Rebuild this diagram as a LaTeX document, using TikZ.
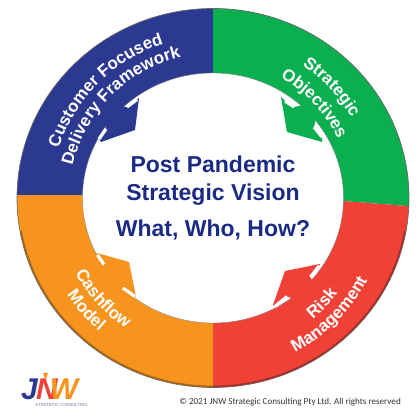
\documentclass[tikz,border=0pt]{standalone}
\usepackage{fontspec}
\setmainfont{Liberation Sans}
\newfontfamily\copyfont{Carlito}
\usetikzlibrary{decorations.text}
\definecolor{ringblue}{HTML}{2B3990}
\definecolor{ringgreen}{HTML}{0BAF50}
\definecolor{ringred}{HTML}{EF4136}
\definecolor{ringorange}{HTML}{F7941E}
\definecolor{visionblue}{HTML}{1B2B85}
\newcommand{\ringfont}{\fontsize{17}{17}\selectfont\bfseries\color{white}}
\tikzset{
  ringlabel/.style={decorate, decoration={text along path, text align=center, text={|\ringfont|#1}}},
  visiontext/.style={font=\fontsize{23}{23}\selectfont\bfseries, text=visionblue, inner sep=0pt, anchor=base},
  logoletter/.style={font=\fontsize{30}{30}\selectfont\bfseries\itshape, inner sep=0pt, anchor=base}
}
\begin{document}
\begin{tikzpicture}[x=1pt, y=1pt]
  \useasboundingbox (0,0) rectangle (420,420);
  % Ring
  \begin{scope}
    \clip (213,222) ellipse [x radius=196, y radius=189.5];
    \fill[ringblue] (0,225) -- (213,225) -- (213,420) -- (0,420) -- cycle;
    \fill[ringgreen] (213,225) -- (343,219) -- (420,213) -- (420,420) -- (213,420) -- cycle;
    \fill[ringred] (213,0) -- (213,225) -- (343,219) -- (420,213) -- (420,0) -- cycle;
    \fill[ringorange] (0,225) -- (213,225) -- (213,0) -- (0,0) -- cycle;
  \end{scope}
  \draw[black!60, line width=0.7pt] (213,222) ellipse [x radius=196, y radius=189.5];
  \draw[black, opacity=0.3, line width=1.4pt] (213,222) ++(190:194.8 and 188.3) arc[start angle=190, end angle=350, x radius=194.8, y radius=188.3];
  \filldraw[fill=white, draw=black!50, line width=0.4pt] (213,222) ellipse [x radius=130.5, y radius=125];
  % Arrows
  \foreach \col/\tipa/\bend/\tipb/\gapa/\gapb/\gapc/\gapd/\back in {
    ringblue/{139,322}/{135,290}/{101,278}/{127,313}/{137,320.5}/{106,291}/{99,281}/{105,315},
    ringgreen/{281,323}/{287,288}/{322,278}/{294,313}/{285,319}/{314,293}/{322,283}/{320,318},
    ringorange/{97,167}/{129,158}/{136,123}/{104,155.5}/{97.5,165}/{123,132}/{135,123.5}/{90,120},
    ringred/{320,156}/{285,149}/{273,115}/{310.5,143}/{319,154}/{287,123.5}/{275,113.5}/{325,110}} {
    \fill[\col] (\tipa) -- (\bend) -- (\tipb) -- (\gapd) -- (\gapc) -- (\back) -- (\gapa) -- (\gapb) -- cycle;
    \draw[white, line width=3.2pt] (\gapa) -- (\gapb);
    \draw[white, line width=3.2pt] (\gapc) -- (\gapd);
  }
  % Ring labels
  \path[ringlabel={Customer Focused}] (213,222) ++(165:162 and 162) arc[start angle=165, end angle=105, radius=162];
  \path[ringlabel={Delivery Framework}] (213,222) ++(170:144 and 144) arc[start angle=170, end angle=100, radius=144];
  \path[ringlabel={Strategic}] (213,222) ++(63:160 and 160) arc[start angle=63, end angle=23, radius=160];
  \path[ringlabel={Objectives}] (213,222) ++(65:138 and 138) arc[start angle=65, end angle=21, radius=138];
  \path[ringlabel={Cashflow}] (213,222) ++(200:157 and 157) arc[start angle=200, end angle=245, radius=157];
  \path[ringlabel={Model}] (213,222) ++(200:175 and 175) arc[start angle=200, end angle=243, radius=175];
  \path[ringlabel={Risk}] (213,222) ++(-62:157 and 157) arc[start angle=-62, end angle=-26, radius=157];
  \path[ringlabel={Management}] (213,222) ++(-70:175 and 175) arc[start angle=-70, end angle=-20, radius=175];
  % Centre text
  \node[visiontext] (post) at (213,247) {Post Pandemic};
  \node[visiontext] (vision) at (213,219) {Strategic Vision};
  \node[visiontext] (how) at (213,183) {What, Who, How?};
  % Logo
  \fill[ringorange] (43,47) -- (48,47) -- (45.5,40) -- cycle;
  \node[logoletter, text=ringblue] (logoj) at (29.5,20) {J};
  \node[logoletter, text=ringred] (logon) at (47,20) {N};
  \node[logoletter, text=ringorange] (logow) at (64,20) {W};
  \node[font=\fontsize{4.2}{4.2}\selectfont, text=ringblue!70, inner sep=0pt] (logosub) at (61.5,14.5) {STRATEGIC CONSULTING};
  % Copyright
  \node[font=\copyfont\fontsize{9.1}{9.1}\selectfont, text=black!80, inner sep=0pt, anchor=base east] (copyright) at (401,16) {© 2021 JNW Strategic Consulting Pty Ltd. All rights reserved};
\end{tikzpicture}
\end{document}
